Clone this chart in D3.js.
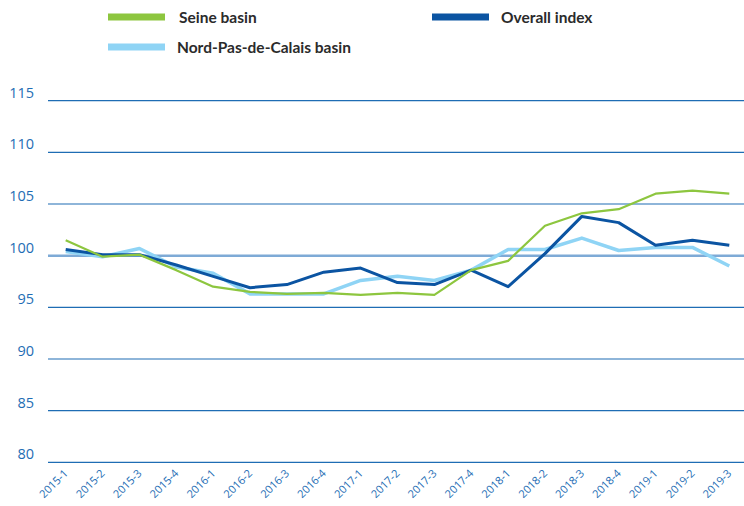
<!DOCTYPE html>
<html>
<head>
<meta charset="utf-8">
<script src="https://cdn.jsdelivr.net/npm/d3@7"></script>
<style>
  body { margin: 0; background: #fff; }
  svg { display: block; }
</style>
</head>
<body>
<div id="chart-area"></div>
<script>
var quarters = ["2015-1","2015-2","2015-3","2015-4","2016-1","2016-2","2016-3","2016-4",
    "2017-1","2017-2","2017-3","2017-4","2018-1","2018-2","2018-3","2018-4","2019-1","2019-2","2019-3"];
var seine = [101.5,99.9,100.1,98.6,97.0,96.5,96.3,96.4,96.2,96.4,96.2,98.6,99.5,102.9,104.1,104.5,106.0,106.3,106.0];
var overall = [100.6,100.1,100.1,99.1,98.0,96.9,97.2,98.4,98.8,97.4,97.2,98.6,97.0,100.2,103.8,103.2,101.0,101.5,101.0];
var nord = [100.4,99.9,100.7,98.9,98.3,96.3,96.3,96.3,97.6,98.0,97.6,98.6,100.6,100.6,101.7,100.5,100.8,100.8,99.0];
var yTicks = [80,85,90,95,100,105,110,115];

var series = [
    {name: "Nord-Pas-de-Calais basin", values: nord, color: "#8fd4f5", width: 3.5},
    {name: "Overall index", values: overall, color: "#0b54a2", width: 3},
    {name: "Seine basin", values: seine, color: "#8dc63f", width: 2.2}
];

var width = 744, height = 506;
var svg = d3.select("#chart-area").append("svg")
    .attr("width", width)
    .attr("height", height);

var x = d3.scalePoint()
    .domain(quarters)
    .range([65.7, 729.3]);

var y = d3.scaleLinear()
    .domain([80, 115])
    .range([462.3, 100.7]);

// gridlines
svg.append("g").selectAll("line")
    .data(yTicks)
    .enter().append("line")
        .attr("x1", 48)
        .attr("x2", width)
        .attr("y1", (d)=>{ return y(d) })
        .attr("y2", (d)=>{ return y(d) })
        .attr("stroke", (d)=>{ return d === 100 ? "#7eaad6" : "#1e6db4" })
        .attr("stroke-width", (d)=>{ return d === 100 ? 2.5 : 1.2 });

// y labels
svg.append("g").selectAll("text")
    .data(yTicks)
    .enter().append("text")
        .attr("x", 34)
        .attr("y", (d)=>{ return y(d) - 3 })
        .attr("text-anchor", "end")
        .attr("font-family", "'Open Sans', sans-serif")
        .attr("font-size", 14.5)
        .attr("fill", "#1e6db4")
        .text((d)=>{ return d });

// x labels
svg.append("g").selectAll("text")
    .data(quarters)
    .enter().append("text")
        .attr("transform", (d)=>{ return "translate(" + (x(d) + 3) + ",474) rotate(-45)" })
        .attr("text-anchor", "end")
        .attr("font-family", "'Open Sans', sans-serif")
        .attr("font-size", 11)
        .attr("fill", "#1e6db4")
        .text((d)=>{ return d });

var line = d3.line()
    .x((d, i)=>{ return x(quarters[i]) })
    .y((d)=>{ return y(d) });

svg.append("g").selectAll("path")
    .data(series)
    .enter().append("path")
        .attr("d", (d)=>{ return line(d.values) })
        .attr("fill", "none")
        .attr("stroke", (d)=>{ return d.color })
        .attr("stroke-width", (d)=>{ return d.width })
        .attr("stroke-linejoin", "round");

// legend
var legend = [
    {name: "Seine basin", color: "#8dc63f", x: 108, y: 17, tx: 179},
    {name: "Overall index", color: "#0b54a2", x: 432, y: 17, tx: 501},
    {name: "Nord-Pas-de-Calais basin", color: "#8fd4f5", x: 108, y: 47, tx: 177}
];
var lg = svg.append("g").selectAll("g")
    .data(legend)
    .enter().append("g");
lg.append("rect")
    .attr("x", (d)=>{ return d.x })
    .attr("y", (d)=>{ return d.y - 3.5 })
    .attr("width", 57)
    .attr("height", 7)
    .attr("fill", (d)=>{ return d.color });
lg.append("text")
    .attr("x", (d)=>{ return d.tx })
    .attr("y", (d)=>{ return d.y + 5.5 })
    .attr("font-family", "Lato, sans-serif")
    .attr("font-weight", "bold")
    .attr("font-size", 15.5)
    .attr("fill", "#2b2b2b")
    .text((d)=>{ return d.name });
</script>
</body>
</html>
